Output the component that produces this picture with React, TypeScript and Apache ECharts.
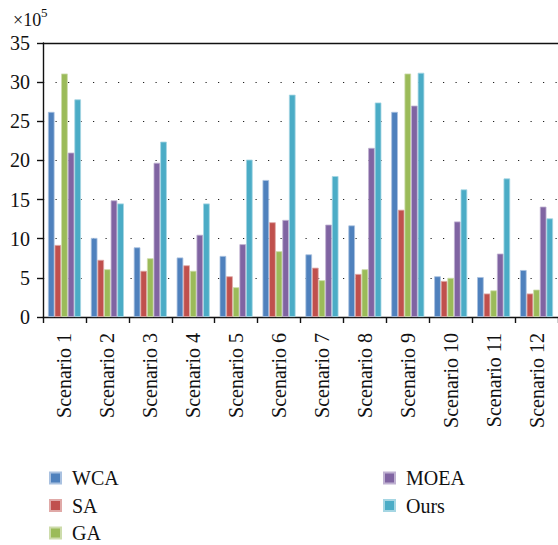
import React, { useEffect, useRef } from "react";
import * as echarts from "echarts";

const categories = [
  "Scenario 1", "Scenario 2", "Scenario 3", "Scenario 4", "Scenario 5", "Scenario 6",
  "Scenario 7", "Scenario 8", "Scenario 9", "Scenario 10", "Scenario 11", "Scenario 12",
];

// Values in units of 10^5
const wca = [26.2, 10.1, 8.9, 7.6, 7.8, 17.5, 8.0, 11.7, 26.2, 5.2, 5.1, 6.0];
const sa = [9.2, 7.3, 5.9, 6.6, 5.2, 12.1, 6.3, 5.5, 13.7, 4.6, 3.0, 3.0];
const ga = [31.1, 6.1, 7.5, 5.9, 3.8, 8.4, 4.7, 6.1, 31.1, 5.0, 3.4, 3.5];
const moea = [21.0, 14.9, 19.7, 10.5, 9.3, 12.4, 11.8, 21.6, 27.0, 12.2, 8.1, 14.1];
const ours = [27.8, 14.5, 22.4, 14.5, 20.1, 28.4, 18.0, 27.4, 31.2, 16.3, 17.7, 12.6];

const seriesNames = ["WCA", "SA", "GA", "MOEA", "Ours"];
const seriesData = [wca, sa, ga, moea, ours];
const colors = ["#4F81BD", "#C0504D", "#9BBB59", "#8064A2", "#4BACC6"];
const edgeColors = ["#a9c1e0", "#e0a9a7", "#cddcab", "#bfb1d1", "#a5d6e3"];

const yTicks = { min: 0, max: 35, interval: 5 };

const FONT = "Liberation Serif";

export default function App() {
  const ref = useRef<HTMLDivElement>(null);

  useEffect(() => {
    if (!ref.current) return;
    const chart = echarts.init(ref.current, undefined, { renderer: "svg" });

    const legendCommon = {
      orient: "vertical" as const,
      top: 468,
      padding: 0,
      itemWidth: 11,
      itemHeight: 11,
      itemGap: 7.5,
      icon: "rect",
      textStyle: {
        fontFamily: FONT,
        fontSize: 20,
        color: "#111",
        lineHeight: 20,
        padding: [0, 0, 0, 6],
      },
    };

    chart.setOption({
      animation: false,
      backgroundColor: "#fff",
      color: colors,
      textStyle: { fontFamily: FONT },
      grid: { left: 43, top: 43, width: 520, height: 274, containLabel: false },
      legend: [
        { ...legendCommon, left: 49, data: seriesNames.slice(0, 3) },
        { ...legendCommon, left: 383, data: seriesNames.slice(3) },
      ],
      graphic: [
        {
          type: "text",
          left: 13,
          top: 11,
          style: { text: "×10", fontFamily: FONT, fontSize: 18, fill: "#111" },
        },
        {
          type: "text",
          left: 41,
          top: 6,
          style: { text: "5", fontFamily: FONT, fontSize: 13, fill: "#111" },
        },
      ],
      xAxis: [
        {
          type: "category",
          data: categories,
          boundaryGap: true,
          axisLine: { show: true, lineStyle: { color: "#111", width: 1.4 } },
          axisTick: { show: true, length: 6, lineStyle: { color: "#111", width: 1.4 } },
          axisLabel: {
            rotate: 90,
            margin: 16,
            fontFamily: FONT,
            fontSize: 20,
            color: "#111",
            interval: 0,
          },
          splitLine: { show: false },
        },
        {
          type: "category",
          position: "top",
          data: categories,
          axisLine: { show: true, lineStyle: { color: "#111", width: 1.4 } },
          axisTick: { show: false },
          axisLabel: { show: false },
          splitLine: { show: false },
        },
      ],
      yAxis: {
        type: "value",
        min: yTicks.min,
        max: yTicks.max,
        interval: yTicks.interval,
        axisLine: { show: true, lineStyle: { color: "#111", width: 1.4 } },
        axisTick: { show: true, length: 6, lineStyle: { color: "#111", width: 1.4 } },
        axisLabel: {
          margin: 13,
          fontFamily: FONT,
          fontSize: 20,
          color: "#111",
        },
        splitLine: {
          show: true,
          lineStyle: { color: "#222", width: 1.2, type: [1.2, 11.3] },
        },
      },
      series: seriesNames.map((name, i) => ({
        name,
        type: "bar",
        xAxisIndex: 0,
        data: seriesData[i],
        barGap: "0%",
        barCategoryGap: "23%",
        itemStyle: {
          color: colors[i],
          borderColor: edgeColors[i],
          borderWidth: 0.8,
        },
      })),
    });

    return () => chart.dispose();
  }, []);

  return (
    <div
      ref={ref}
      style={{ position: "fixed", left: 0, top: 0, width: 558, height: 545 }}
    />
  );
}
